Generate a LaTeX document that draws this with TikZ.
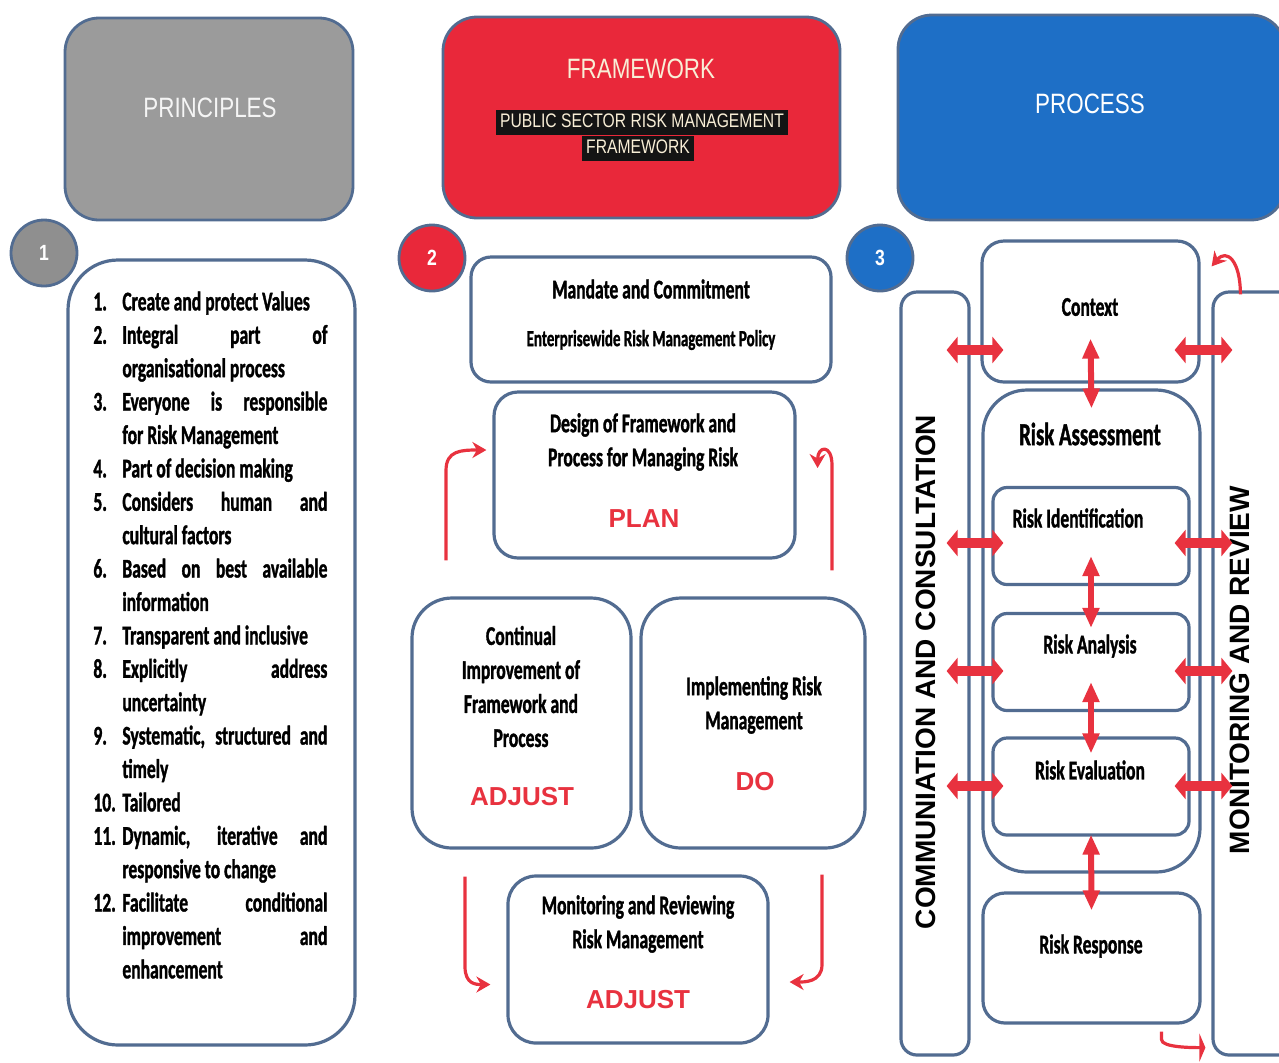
\documentclass[tikz,border=0pt]{standalone}
\usepackage{fontspec}
\usepackage{xcolor}
\usepackage{tikz}
\usetikzlibrary{arrows.meta,calc}
\definecolor{frameblue}{RGB}{82,108,145}
\definecolor{riskred}{RGB}{232,50,63}
\definecolor{headgray}{RGB}{155,155,155}
\definecolor{circgray}{RGB}{143,143,143}
\definecolor{headred}{RGB}{233,40,58}
\definecolor{headblue}{RGB}{30,111,198}
\definecolor{cream}{RGB}{248,238,214}
\newfontfamily\condfont[FakeStretch=0.65,BoldFont={Carlito Bold},BoldFeatures={FakeBold=1.2}]{Carlito}
\newfontfamily\headfont[FakeStretch=0.8]{Liberation Sans}
\newfontfamily\barfont{Liberation Sans}
\newcommand{\pnum}[1]{\makebox[14.5pt][l]{#1}}
\newcommand{\pind}{\hspace*{14.5pt}}
\newcommand{\pjust}[1]{\makebox[102.5pt][s]{#1}}

\begin{document}
\begin{tikzpicture}[x=0.5pt,y=-0.5pt,line join=round,
  box/.style={draw=frameblue,line width=1.6pt,fill=white,inner sep=0pt},
  head/.style={draw=frameblue,line width=1.4pt,rounded corners=17pt,inner sep=0pt},
  headtext/.style={font=\headfont\fontsize{14}{14}\selectfont,inner sep=0pt},
  subtitle/.style={font=\headfont\fontsize{9.8}{10}\selectfont,fill=black!92,text=cream,text height=7.5pt,text depth=2pt,inner xsep=2pt,inner ysep=1.5pt},
  numcirc/.style={circle,draw=frameblue,line width=1.4pt,minimum size=33pt,inner sep=0pt,text=white,font=\headfont\bfseries\fontsize{11}{11}\selectfont},
  boxtext/.style={font=\condfont\bfseries\fontsize{13.5}{17}\selectfont,inner sep=0pt,
    execute at begin node={\spaceskip=0pt\xspaceskip=0pt\hyphenpenalty=10000\relax}},
  action/.style={font=\barfont\bfseries\fontsize{13}{13}\selectfont,text=riskred,inner sep=0pt},
  bartext/.style={font=\barfont\bfseries\fontsize{14}{14}\selectfont,inner sep=0pt},
  flow/.style={draw=riskred,line width=1.6pt,-{Stealth[length=7pt,width=8pt]}},
  hbi/.style={draw=riskred,line width=5pt,{Triangle[width=13pt,length=5.5pt]}-{Triangle[width=13pt,length=5.5pt]}},
  vbi/.style={draw=riskred,line width=3pt,{Triangle[width=8pt,length=10pt]}-{Triangle[width=8pt,length=10pt]}}]
\useasboundingbox (0,0) rectangle (1279,1062);

\node[head,fill=headgray,minimum width=144pt,minimum height=101pt] (princhead) at (209,119) {};
\node[headtext,text=white!92!gray] (princtitle) at (210,108) {PRINCIPLES};
\node[head,fill=headred,minimum width=198.5pt,minimum height=100.5pt] (framehead) at (641.5,117.5) {};
\node[headtext,text=cream] (frametitle) at (641,69) {FRAMEWORK};
\node[subtitle] (publine) at (642,122) {PUBLIC SECTOR RISK MANAGEMENT};
\node[subtitle] (pubframe) at (638,148) {FRAMEWORK};
\node[head,fill=headblue,minimum width=193.5pt,minimum height=102.5pt] (prochead) at (1091.5,117.5) {};
\node[headtext,text=white] (proctitle) at (1090,104) {PROCESS};

\foreach \cx/\cy/\cc/\nn in {44/253/circgray/1,432/258/headred/2,880/258/headblue/3}
  \node[numcirc,fill=\cc] (circ\nn) at (\cx,\cy) {\nn};

\node[box,rounded corners=25pt,minimum width=143.5pt,minimum height=392.5pt] (princbox) at (211.5,652.5) {};
\node[boxtext,font=\condfont\bfseries\fontsize{13.5}{16.7}\selectfont,text width=117pt,align=left,anchor=north west] (princlist) at (93,291) {%
\pnum{1.}Create and protect Values\\
\pnum{2.}\pjust{Integral part of}\\
\pind organisational process\\
\pnum{3.}\pjust{Everyone is responsible}\\
\pind for Risk Management\\
\pnum{4.}Part of decision making\\
\pnum{5.}\pjust{Considers human and}\\
\pind cultural factors\\
\pnum{6.}\pjust{Based on best available}\\
\pind information\\
\pnum{7.}Transparent and inclusive\\
\pnum{8.}\pjust{Explicitly address}\\
\pind uncertainty\\
\pnum{9.}\pjust{Systematic, structured and}\\
\pind timely\\
\pnum{10.}Tailored\\
\pnum{11.}\pjust{Dynamic, iterative and}\\
\pind responsive to change\\
\pnum{12.}\pjust{Facilitate conditional}\\
\pind\pjust{improvement and}\\
\pind enhancement};

\node[box,rounded corners=10pt,minimum width=180pt,minimum height=62.5pt] (mandate) at (651,319.5) {};
\node[boxtext] (mandtitle) at (651,289) {Mandate and Commitment};
\node[boxtext,font=\condfont\bfseries\fontsize{11.5}{13}\selectfont] (mandpolicy) at (651,340) {Enterprisewide Risk Management Policy};
\node[box,rounded corners=12pt,minimum width=150.5pt,minimum height=83pt] (design) at (644.5,475) {};
\node[boxtext,align=center] (designtext) at (643,442) {Design of Framework and\\Process for Managing Risk};
\node[action] (plan) at (644,519) {PLAN};
\node[box,rounded corners=20pt,minimum width=109.5pt,minimum height=125pt] (continual) at (521.5,723) {};
\node[boxtext,align=center] (conttext) at (521,686.5) {Continual\\Improvement of\\Framework and\\Process};
\node[action] (adjustcont) at (522,797) {ADJUST};
\node[box,rounded corners=20pt,minimum width=112pt,minimum height=125pt] (implement) at (753,723) {};
\node[boxtext,align=center] (impltext) at (754,705) {Implementing Risk\\Management};
\node[action] (do) at (755,782) {DO};
\node[box,rounded corners=14pt,minimum width=130pt,minimum height=83.5pt] (monitor) at (638,959.5) {};
\node[boxtext,align=center] (montext) at (638,924) {Monitoring and Reviewing\\Risk Management};
\node[action] (adjustmon) at (638,1000) {ADJUST};

\draw[flow] ([xshift=-37.75pt,yshift=18pt]continual.north) -- ++(0,-90) .. controls +(0,-20) and +(-25,0) .. ([xshift=-3pt,yshift=12.5pt]design.west);
\draw[flow] ([xshift=39.5pt,yshift=13pt]implement.north) -- ++(0,-105) .. controls +(0,-22) and +(0,-22) .. ([xshift=10.5pt,yshift=3.5pt]design.east);
\draw[flow] ([xshift=-28.25pt,yshift=-13.5pt]continual.south) -- ++(0,90) .. controls +(0,18) and +(-14,0) .. ([xshift=-8pt,yshift=-12.5pt]monitor.west);
\draw[flow] ([xshift=34.5pt,yshift=-12.5pt]implement.south) -- ++(0,90) .. controls +(0,18) and +(14,0) .. ([xshift=10pt,yshift=-11.25pt]monitor.east);

\node[box,rounded corners=8pt,minimum width=34pt,minimum height=381.5pt] (commbar) at (935,673.5) {};
\node[bartext,rotate=90] (commtext) at (926,672) {COMMUNIATION AND CONSULTATION};
\node[box,rounded corners=8pt,minimum width=43.5pt,minimum height=381.5pt] (monbar) at (1256.5,673.5) {};
\node[bartext,rotate=90] (montitle) at (1240,670) {MONITORING AND REVIEW};
\node[box,rounded corners=11pt,minimum width=108.5pt,minimum height=70.5pt] (context) at (1090.5,311.5) {};
\node[boxtext] (contexttext) at (1090,307) {Context};
\node[box,rounded corners=22pt,minimum width=108.5pt,minimum height=241pt] (assess) at (1091.5,631) {};
\node[boxtext,font=\condfont\bfseries\fontsize{16}{16}\selectfont] (assesstext) at (1090,434) {Risk Assessment};
\foreach \nm/\cy/\tx/\ty/\lb in {ident/536/1078/518/Risk Identification,analysis/662/1090/646/Risk Analysis,evaluation/786.5/1090/770/Risk Evaluation}{
  \node[box,rounded corners=7pt,minimum width=98pt,minimum height=48.5pt] (\nm) at (1091,\cy) {};
  \node[boxtext] (\nm text) at (\tx,\ty) {\lb};}
\node[box,rounded corners=11pt,minimum width=108.5pt,minimum height=65pt] (response) at (1091.5,958) {};
\node[boxtext] (responsetext) at (1091,946) {Risk Response};

\draw[vbi] ([yshift=22.5pt]context.south) -- ([yshift=-10pt]assess.north);
\draw[vbi] ([yshift=15pt]ident.south) -- ([yshift=-8pt]analysis.north);
\draw[vbi] ([yshift=15pt]analysis.south) -- ([yshift=-8.5pt]evaluation.north);
\draw[vbi] ([yshift=1pt]evaluation.south) -- ([yshift=-9.5pt]response.north);
\foreach \yy in {350,543,671,786}{
  \draw[hbi] ($(commbar.east |- 0,\yy)+(-24,0)$) -- ($(assess.west |- 0,\yy)+(22,0)$);
  \draw[hbi] ($(assess.east |- 0,\yy)+(-27,0)$) -- ($(monbar.west |- 0,\yy)+(21,0)$);}
\draw[flow] ([xshift=14.5pt,yshift=-2pt]monbar.north west) .. controls +(0,-34) and +(15,-18) .. ([xshift=5.5pt,yshift=-13.5pt]context.north east);
\draw[draw=riskred,line width=1.6pt,-{Triangle[width=14pt,length=3pt]}] ([xshift=35pt,yshift=-3.5pt]response.south) -- ++(0,8) .. controls +(0,8) and +(-12,0) .. ([xshift=-3pt,yshift=4.5pt]monbar.south west);
\end{tikzpicture}
\end{document}
